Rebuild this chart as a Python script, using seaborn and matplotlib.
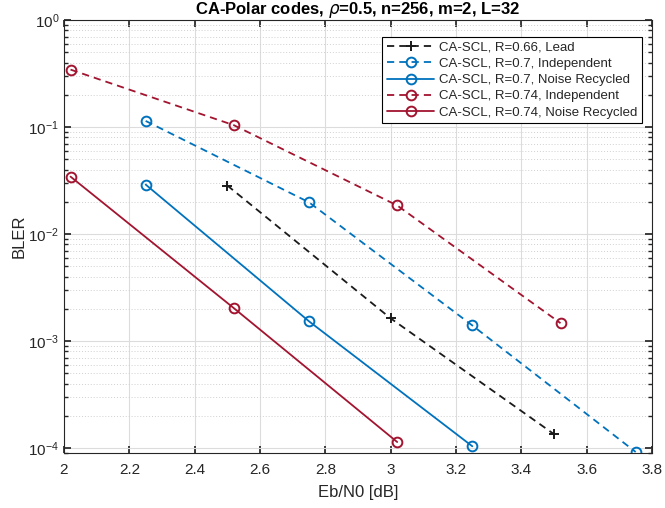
import numpy as np
import pandas as pd
import seaborn as sns
import matplotlib.pyplot as plt
from matplotlib.ticker import LogLocator, NullFormatter

# data
x_lead = [2.5, 3.0, 3.5]
y_lead = [0.0284, 1.63e-3, 1.35e-4]

x_r07 = [2.25, 2.75, 3.25, 3.75]
y_r07_ind = [0.114, 0.0198, 1.40e-3, 9.2e-5]
y_r07_nr = [0.029, 1.53e-3, 1.04e-4]

x_r074 = [2.02, 2.52, 3.02, 3.52]
y_r074_ind = [0.344, 0.104, 0.0185, 1.47e-3]
y_r074_nr = [0.0344, 2.03e-3, 1.14e-4]

labels = ["CA-SCL, R=0.66, Lead",
          "CA-SCL, R=0.7, Independent",
          "CA-SCL, R=0.7, Noise Recycled",
          "CA-SCL, R=0.74, Independent",
          "CA-SCL, R=0.74, Noise Recycled"]

blue = "#0072BD"
red = "#A2142F"

sns.set_theme(style="ticks")
plt.rcParams['font.family'] = ['Liberation Sans', 'DejaVu Sans']
plt.rcParams['mathtext.fontset'] = 'dejavusans'

fig = plt.figure(figsize=(6.65, 5.08), dpi=100)
ax = fig.add_axes([64 / 665, 1 - 453 / 508, 588 / 665, 433 / 508])

series = [
    (x_lead, y_lead, "k", "--", "+", labels[0]),
    (x_r07, y_r07_ind, blue, "--", "o", labels[1]),
    (x_r07[:3], y_r07_nr, blue, "-", "o", labels[2]),
    (x_r074, y_r074_ind, red, "--", "o", labels[3]),
    (x_r074[:3], y_r074_nr, red, "-", "o", labels[4]),
]
for xs, ys, c, ls, m, lab in series:
    df = pd.DataFrame({"x": xs, "y": ys})
    line = sns.lineplot(data=df, x="x", y="y", ax=ax, color=c, marker=m,
                        markersize=7, markerfacecolor="none", markeredgecolor=c,
                        markeredgewidth=1.4, linewidth=1.3, label=lab).lines[-1]
    if ls == "--":
        line.set_dashes((4, 2.8))

ax.set_yscale("log")
ax.set_xlim(2, 3.8)
ax.set_ylim(9e-5, 1)
ax.set_xticks(np.arange(2, 3.81, 0.2))
ax.set_xticklabels(["2", "2.2", "2.4", "2.6", "2.8", "3", "3.2", "3.4", "3.6", "3.8"])
ax.yaxis.set_major_locator(LogLocator(base=10, numticks=10))
ax.yaxis.set_minor_locator(LogLocator(base=10, subs=np.arange(2, 10), numticks=10))
ax.yaxis.set_minor_formatter(NullFormatter())

ax.grid(True, which="major", color="#dcdcdc", linewidth=0.8, linestyle="-")
ax.grid(True, which="minor", axis="y", color="#d0d0d0", linewidth=0.7, linestyle=(0, (1, 2)))
ax.set_axisbelow(True)

for s in ax.spines.values():
    s.set_visible(True)
    s.set_color("#262626")
    s.set_linewidth(0.8)
ax.tick_params(which="both", direction="in", top=True, right=True, colors="#262626",
               labelsize=11)
ax.tick_params(which="major", length=5)
ax.tick_params(which="minor", length=3)
ax.tick_params(axis="x", pad=7)

ax.set_xlabel("Eb/N0 [dB]", fontsize=12, color="#262626", labelpad=6)
ax.set_ylabel("BLER", fontsize=12, color="#262626", labelpad=1)
ax.set_title(r"CA-Polar codes, $\rho$=0.5, n=256, m=2, L=32", fontsize=12,
             fontweight="bold", color="black", pad=4)

leg = ax.legend(ax.lines, labels, loc="upper right",
                bbox_to_anchor=(642 / 665, 1 - 37 / 508), bbox_transform=fig.transFigure,
                fontsize=9.5, frameon=True, fancybox=False,
                edgecolor="black", framealpha=1, borderpad=0.35, labelspacing=0.3,
                handlelength=3.6, handletextpad=0.35, borderaxespad=0)
leg.get_frame().set_linewidth(0.8)

fig.savefig("out.png", dpi=100)
